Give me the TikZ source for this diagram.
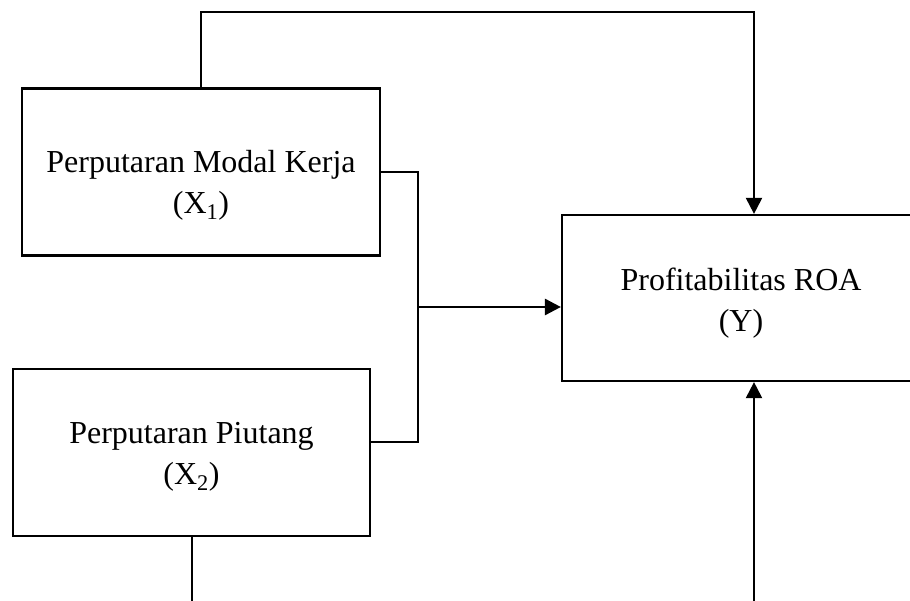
\documentclass[tikz,border=0pt]{standalone}
\usepackage{fontspec}
\setmainfont{Liberation Serif}
\usetikzlibrary{arrows.meta}

\begin{document}
\begin{tikzpicture}[x=1pt,y=-1pt,
  varbox/.style={draw,line width=2.2pt,inner sep=0pt},
  vartext/.style={align=center,inner sep=0pt,font=\fontsize{32}{41}\selectfont},
  link/.style={line width=2pt},
  arr/.style={link,-{Triangle[length=16pt,width=16pt]}}]
\clip (0,0) rectangle (910,601);

\node[varbox,minimum width=358pt,minimum height=167pt] (x1) at (201,172) {};
\node[vartext] (x1txt) at (201,185) {Perputaran Modal Kerja\\(X\textsubscript{1})};

\node[varbox,minimum width=357pt,minimum height=167pt] (x2) at (191.5,452.5) {};
\node[vartext] (x2txt) at (191.5,457) {Perputaran Piutang\\(X\textsubscript{2})};

\node[varbox,minimum width=384pt,minimum height=166pt] (yv) at (754,298) {};
\node[vartext] (ytxt) at (741,303) {Profitabilitas ROA\\(Y)};

\coordinate (join) at (418,307);
\coordinate (x2in) at ([yshift=10.5pt]x2.east);
\coordinate (x2out) at (x2.south |- 0,610);
\coordinate (yin) at (yv.south |- 0,610);

\draw[arr] (x1.north) -- ++(0,-75) -| (yv.north);

\draw[link] (x1.east) -| (join) |- (x2in);
\draw[arr,line width=2.8pt] (join) -- (join -| yv.west);

\draw[link] (x2.south) -- (x2out);
\draw[arr] (yin) -- (yv.south);
\end{tikzpicture}
\end{document}
